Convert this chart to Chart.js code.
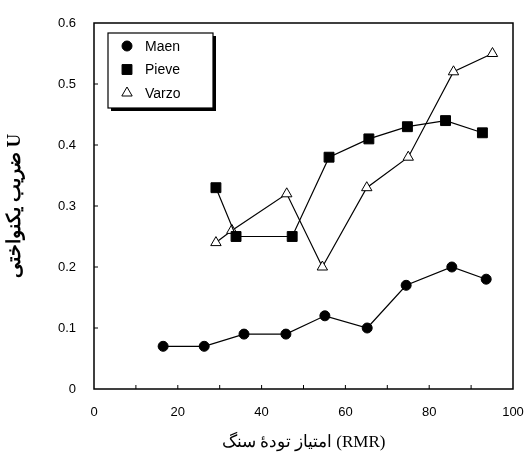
<!DOCTYPE html>
<html lang="fa">
<head>
    <meta charset="UTF-8">
    <title>U vs RMR</title>
    <script src="https://cdn.jsdelivr.net/npm/chart.js"></script>
    <style>
        html, body { margin: 0; padding: 0; background: #fff; }
        .chart-container { width: 528px; height: 457px; position: relative; }
    </style>
</head>
<body>
    <div class="chart-container">
        <canvas id="uChart"></canvas>
    </div>
    <script>
        // values (x = RMR, y = U)
        const maenX  = [16.5, 26.3, 35.8, 45.8, 55.1, 65.2, 74.5, 85.4, 93.6];
        const maenY  = [0.07, 0.07, 0.09, 0.09, 0.12, 0.10, 0.17, 0.20, 0.18];
        const pieveX = [29.1, 33.9, 47.3, 56.1, 65.6, 74.8, 83.9, 92.7];
        const pieveY = [0.33, 0.25, 0.25, 0.38, 0.41, 0.43, 0.44, 0.42];
        const varzoX = [29.1, 32.9, 46.0, 54.5, 65.1, 75.0, 85.8, 95.1];
        const varzoY = [0.24, 0.26, 0.32, 0.20, 0.33, 0.38, 0.52, 0.55];

        const seriesNames = ['Maen', 'Pieve', 'Varzo'];
        const xTitle = 'امتیاز تودهٔ سنگ (RMR)';
        const yTitle = 'ضریب یکنواختی U';

        function pts(xs, ys) {
            return xs.map((x, i) => ({ x: x, y: ys[i] }));
        }

        // frame + inward tick marks
        const framePlugin = {
            id: 'frame',
            afterDraw(chart) {
                const ctx = chart.ctx;
                const a = chart.chartArea;
                const xs = chart.scales.x, ys = chart.scales.y;
                ctx.save();
                ctx.strokeStyle = '#000';
                ctx.lineWidth = 1.5;
                ctx.strokeRect(a.left, a.top, a.right - a.left, a.bottom - a.top);
                ctx.lineWidth = 1;
                ctx.beginPath();
                for (let v = 10; v < 100; v += 10) {
                    const px = xs.getPixelForValue(v);
                    ctx.moveTo(px, a.bottom);
                    ctx.lineTo(px, a.bottom - 4);
                }
                for (let v = 1; v < 6; v++) {
                    const py = ys.getPixelForValue(v / 10);
                    ctx.moveTo(a.left, py);
                    ctx.lineTo(a.left + 4, py);
                }
                ctx.stroke();
                ctx.restore();
            }
        };

        // boxed legend with drop shadow inside the plot
        const boxLegend = {
            id: 'boxLegend',
            afterDraw(chart) {
                const ctx = chart.ctx;
                const bx = 108, by = 33, bw = 105, bh = 75;
                ctx.save();
                ctx.fillStyle = '#000';
                ctx.fillRect(bx + 3, by + 3, bw, bh);
                ctx.fillStyle = '#fff';
                ctx.fillRect(bx, by, bw, bh);
                ctx.strokeStyle = '#000';
                ctx.lineWidth = 1.2;
                ctx.strokeRect(bx, by, bw, bh);
                ctx.font = '14px "Liberation Sans", Arial, sans-serif';
                ctx.textBaseline = 'middle';
                chart.data.datasets.forEach((ds, i) => {
                    const y = by + 13 + i * 23.5;
                    ctx.fillStyle = ds.pointBackgroundColor;
                    ctx.strokeStyle = '#000';
                    ctx.lineWidth = 1;
                    Chart.helpers.drawPoint(ctx, {
                        pointStyle: ds.pointStyle,
                        radius: ds.pointRadius,
                        rotation: 0,
                        borderWidth: 1
                    }, bx + 19, y);
                    ctx.fillStyle = '#000';
                    ctx.fillText(ds.label, bx + 37, y + 1);
                });
                ctx.restore();
            }
        };

        const base = {
            borderColor: '#000',
            borderWidth: 1.2,
            pointBorderColor: '#000',
            pointBorderWidth: 1,
            showLine: true,
            tension: 0
        };

        new Chart(document.getElementById('uChart').getContext('2d'), {
            type: 'scatter',
            data: {
                datasets: [
                    Object.assign({}, base, {
                        label: seriesNames[0], data: pts(maenX, maenY),
                        pointStyle: 'circle', pointRadius: 5, pointBackgroundColor: '#000'
                    }),
                    Object.assign({}, base, {
                        label: seriesNames[1], data: pts(pieveX, pieveY),
                        pointStyle: 'rect', pointRadius: 7, pointBackgroundColor: '#000'
                    }),
                    Object.assign({}, base, {
                        label: seriesNames[2], data: pts(varzoX, varzoY),
                        pointStyle: 'triangle', pointRadius: 6, pointBackgroundColor: '#fff'
                    })
                ]
            },
            options: {
                responsive: true,
                maintainAspectRatio: false,
                animation: false,
                layout: { padding: { top: 23, right: 15, left: 0, bottom: 0 } },
                scales: {
                    x: {
                        type: 'linear',
                        min: 0, max: 100,
                        grid: { display: false },
                        border: { display: false },
                        ticks: {
                            stepSize: 20,
                            padding: 8,
                            color: '#000',
                            font: { family: '"Liberation Sans", Arial, sans-serif', size: 13 }
                        },
                        title: {
                            display: true,
                            text: xTitle,
                            color: '#000',
                            padding: { top: 6 },
                            font: { family: '"Liberation Serif", "DejaVu Serif", serif', size: 17 }
                        },
                        afterFit: s => { s.height = 68; s.paddingRight = 0; s.paddingLeft = 0; }
                    },
                    y: {
                        min: 0, max: 0.6,
                        grid: { display: false },
                        border: { display: false },
                        ticks: {
                            stepSize: 0.1,
                            padding: 10,
                            color: '#000',
                            font: { family: '"Liberation Sans", Arial, sans-serif', size: 13 },
                            callback: v => (v === 0 ? '0' : v.toFixed(1))
                        },
                        title: {
                            display: true,
                            text: yTitle,
                            color: '#000',
                            padding: { bottom: 8 },
                            font: { family: '"Liberation Serif", "DejaVu Serif", serif', size: 19, weight: 'bold' }
                        },
                        afterFit: s => { s.width = 94; s.paddingTop = 0; s.paddingBottom = 0; }
                    }
                },
                plugins: {
                    legend: { display: false },
                    tooltip: { enabled: false }
                }
            },
            plugins: [framePlugin, boxLegend]
        });
    </script>
</body>
</html>
